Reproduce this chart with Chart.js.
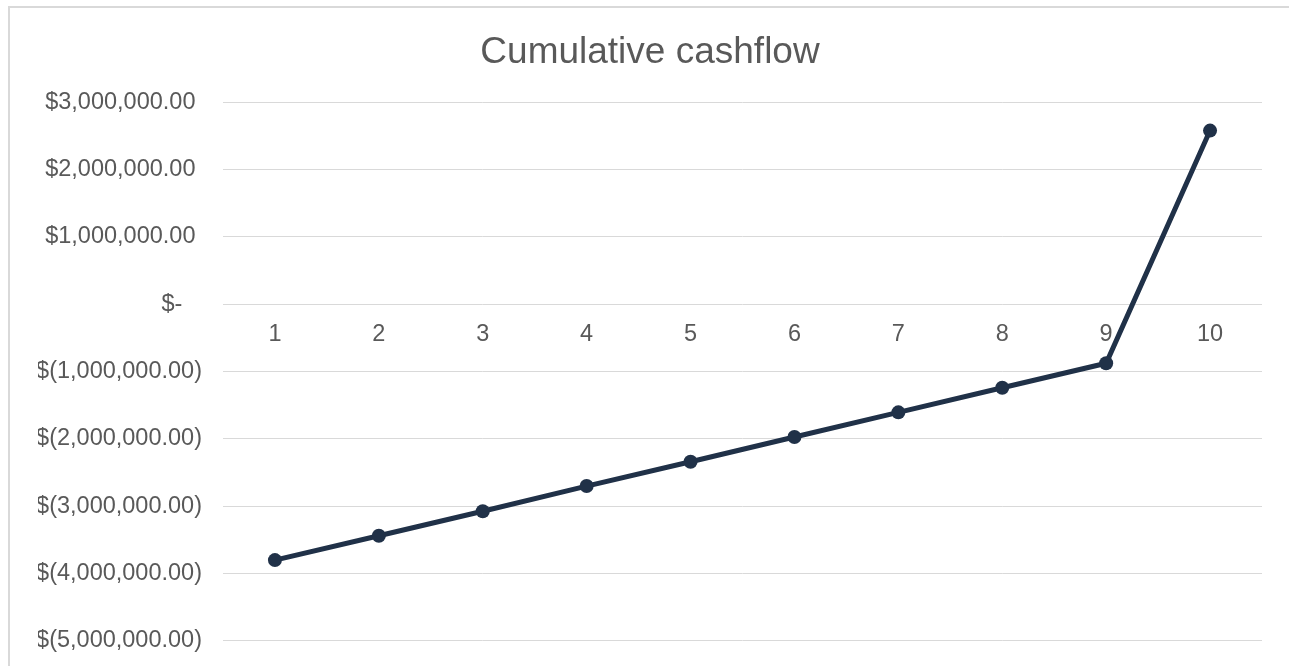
<!DOCTYPE html>
<html>
<head>
<meta charset="utf-8">
<script src="https://cdn.jsdelivr.net/npm/chart.js@4"></script>
<style>
  html, body { margin: 0; padding: 0; background: #ffffff; overflow: hidden; }
  #wrap { position: relative; width: 1289px; height: 666px; }
  #frame { position: absolute; left: 8px; top: 6px; width: 1400px; height: 800px; border: 2px solid #d9d9d9; box-sizing: border-box; }
  canvas { position: absolute; left: 0; top: 0; }
</style>
</head>
<body>
<div id="wrap">
  <div id="frame"></div>
  <canvas id="c" width="1289" height="666"></canvas>
</div>
<script>
const titleText = "Cumulative cashflow";
const categories = ["1", "2", "3", "4", "5", "6", "7", "8", "9", "10"];
const cumulativeCashflow = [-3802000, -3441000, -3076000, -2702000, -2341000, -1973000, -1606000, -1240000, -877000, 2581000];
const yMin = -5000000;
const yMax = 3000000;
const yStep = 1000000;

function fmtMoney(v) {
  if (Math.abs(v) < 0.5) return "$-   ";
  const abs = Math.abs(v);
  const intPart = Math.floor(abs).toString().replace(/\B(?=(\d{3})+(?!\d))/g, ",");
  return "$" + (v < 0 ? "(" : "") + intPart + ".00" + (v < 0 ? ")" : " ");
}

const textColor = "#595959";
const fontFamily = "'Liberation Sans', Arial, sans-serif";
const tickSize = 23.5;

new Chart(document.getElementById("c"), {
  type: "line",
  data: {
    labels: categories,
    datasets: [{
      label: titleText,
      data: cumulativeCashflow,
      borderColor: "#203148",
      backgroundColor: "#203148",
      borderWidth: 5,
      pointRadius: 7,
      pointHoverRadius: 7,
      pointBackgroundColor: "#203148",
      pointBorderColor: "#203148",
      pointBorderWidth: 0,
      tension: 0,
      fill: false
    }]
  },
  options: {
    responsive: false,
    animation: false,
    devicePixelRatio: 1,
    layout: { padding: { left: 38, right: 27, top: 0, bottom: 25.3 } },
    plugins: {
      legend: { display: false },
      tooltip: { enabled: false },
      title: {
        display: true,
        text: titleText,
        color: textColor,
        font: { family: fontFamily, size: 37, weight: "normal" },
        padding: { top: 31, bottom: 27 }
      }
    },
    scales: {
      x: {
        type: "category",
        offset: true,
        position: { y: 0 },
        grid: { display: false, drawTicks: false },
        border: { display: false },
        ticks: {
          color: textColor,
          font: { family: fontFamily, size: tickSize },
          padding: 16,
          maxRotation: 0,
          autoSkip: false
        }
      },
      y: {
        min: yMin,
        max: yMax,
        grid: { color: "#d9d9d9", lineWidth: 1, drawTicks: false },
        border: { display: false },
        afterFit: (s) => { s.width = 185; s.paddingBottom = 14; },
        ticks: {
          stepSize: yStep,
          color: textColor,
          font: { family: fontFamily, size: tickSize },
          padding: 21,
          callback: (v) => fmtMoney(v)
        }
      }
    }
  }
});
</script>
</body>
</html>
